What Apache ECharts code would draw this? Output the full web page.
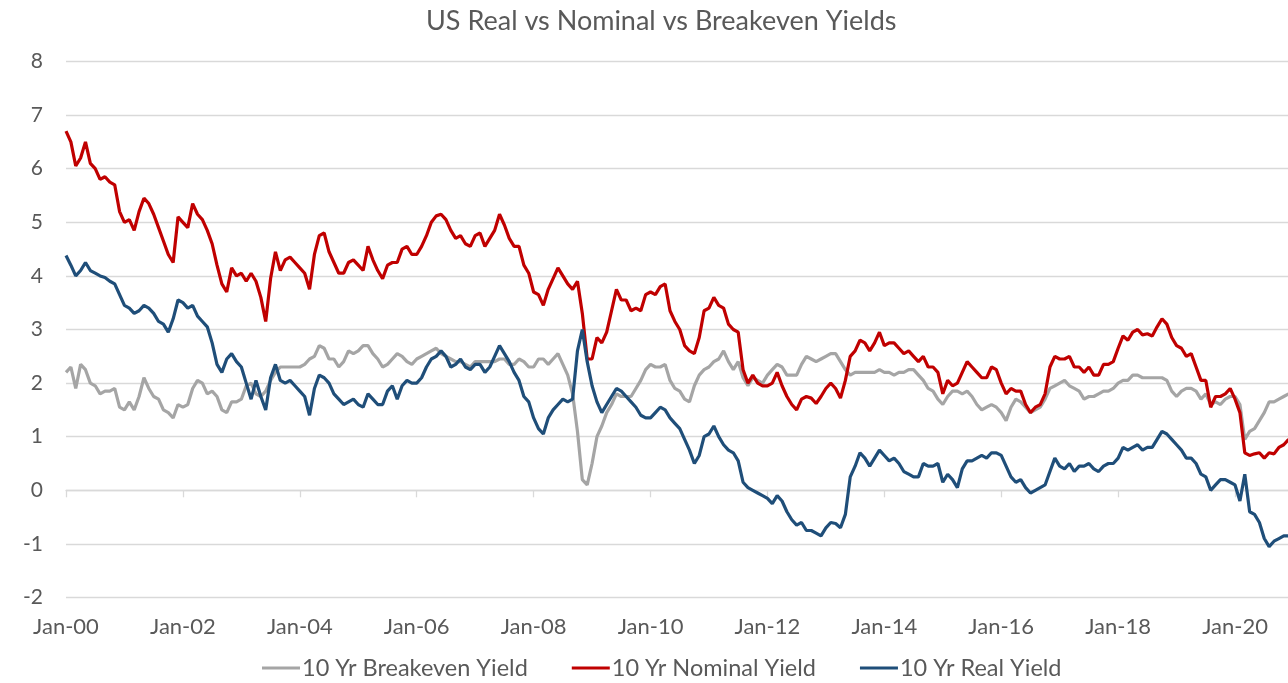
<!DOCTYPE html>
<html>
<head>
<meta charset="utf-8">
<script src="https://cdn.jsdelivr.net/npm/echarts@6/dist/echarts.min.js"></script>
<style>
  html, body { margin: 0; padding: 0; background: #fff; }
  #yield-chart { width: 1288px; height: 683px; }
</style>
</head>
<body>
<div id="yield-chart"></div>
<script>
// monthly readings, Jan-00 .. Dec-20 (one row per year)
const breakeven = [
  2.2, 2.3, 1.9, 2.35, 2.25, 2.0, 1.95, 1.8, 1.85, 1.85, 1.9, 1.55,
  1.5, 1.65, 1.5, 1.75, 2.1, 1.9, 1.75, 1.7, 1.5, 1.45, 1.35, 1.6,
  1.55, 1.6, 1.9, 2.05, 2.0, 1.8, 1.85, 1.75, 1.5, 1.45, 1.65, 1.65,
  1.7, 1.95, 2.0, 1.8, 1.75, 1.85, 2.05, 2.2, 2.3, 2.3, 2.3, 2.3,
  2.3, 2.35, 2.45, 2.5, 2.7, 2.65, 2.45, 2.45, 2.3, 2.4, 2.6, 2.55,
  2.6, 2.7, 2.7, 2.55, 2.45, 2.3, 2.35, 2.45, 2.55, 2.5, 2.4, 2.35,
  2.45, 2.5, 2.55, 2.6, 2.65, 2.55, 2.5, 2.45, 2.4, 2.4, 2.35, 2.3,
  2.4, 2.4, 2.4, 2.4, 2.4, 2.45, 2.45, 2.35, 2.35, 2.45, 2.4, 2.3,
  2.3, 2.45, 2.45, 2.35, 2.45, 2.55, 2.35, 2.15, 1.8, 1.1, 0.2, 0.1,
  0.5, 1.0, 1.2, 1.45, 1.6, 1.8, 1.75, 1.75, 1.75, 1.9, 2.05, 2.25,
  2.35, 2.3, 2.3, 2.35, 2.05, 1.9, 1.85, 1.7, 1.65, 1.95, 2.15, 2.25,
  2.3, 2.4, 2.45, 2.6, 2.4, 2.25, 2.4, 2.1, 1.95, 2.1, 2.05, 2.0,
  2.15, 2.25, 2.35, 2.3, 2.15, 2.15, 2.15, 2.35, 2.5, 2.45, 2.4, 2.45,
  2.5, 2.55, 2.55, 2.4, 2.25, 2.15, 2.2, 2.2, 2.2, 2.2, 2.2, 2.25,
  2.2, 2.2, 2.15, 2.2, 2.2, 2.25, 2.25, 2.15, 2.05, 1.9, 1.85, 1.7,
  1.6, 1.75, 1.85, 1.85, 1.8, 1.85, 1.75, 1.6, 1.5, 1.55, 1.6, 1.55,
  1.45, 1.3, 1.55, 1.7, 1.65, 1.55, 1.45, 1.5, 1.55, 1.7, 1.9, 1.95,
  2.0, 2.05, 1.95, 1.9, 1.85, 1.7, 1.75, 1.75, 1.8, 1.85, 1.85, 1.9,
  2.0, 2.05, 2.05, 2.15, 2.15, 2.1, 2.1, 2.1, 2.1, 2.1, 2.05, 1.85,
  1.75, 1.85, 1.9, 1.9, 1.85, 1.7, 1.8, 1.6, 1.65, 1.6, 1.7, 1.75,
  1.75, 1.6, 0.95, 1.1, 1.15, 1.3, 1.45, 1.65, 1.65, 1.7, 1.75, 1.8
];

const nominal = [
  6.7, 6.5, 6.05, 6.2, 6.5, 6.1, 6.0, 5.8, 5.85, 5.75, 5.7, 5.2,
  5.0, 5.05, 4.85, 5.2, 5.45, 5.35, 5.15, 4.9, 4.65, 4.4, 4.25, 5.1,
  5.0, 4.9, 5.35, 5.15, 5.05, 4.85, 4.6, 4.2, 3.85, 3.7, 4.15, 4.0,
  4.05, 3.9, 4.05, 3.9, 3.6, 3.15, 3.95, 4.45, 4.1, 4.3, 4.35, 4.25,
  4.15, 4.05, 3.75, 4.4, 4.75, 4.8, 4.45, 4.25, 4.05, 4.05, 4.25, 4.3,
  4.2, 4.1, 4.55, 4.3, 4.1, 3.95, 4.2, 4.25, 4.25, 4.5, 4.55, 4.4,
  4.4, 4.55, 4.75, 5.0, 5.12, 5.15, 5.05, 4.85, 4.7, 4.75, 4.6, 4.55,
  4.75, 4.8, 4.55, 4.7, 4.85, 5.15, 4.95, 4.7, 4.55, 4.55, 4.2, 4.05,
  3.7, 3.65, 3.45, 3.75, 3.95, 4.15, 4.0, 3.85, 3.75, 3.9, 3.3, 2.45,
  2.45, 2.85, 2.75, 2.95, 3.35, 3.75, 3.55, 3.55, 3.35, 3.4, 3.35, 3.65,
  3.7, 3.65, 3.8, 3.85, 3.35, 3.15, 3.0, 2.7, 2.6, 2.55, 2.85, 3.35,
  3.4, 3.6, 3.45, 3.4, 3.1, 3.0, 2.95, 2.25, 2.0, 2.15, 2.0, 1.95,
  1.95, 2.0, 2.2, 1.95, 1.75, 1.6, 1.5, 1.7, 1.75, 1.72, 1.62, 1.75,
  1.9, 2.0, 1.9, 1.72, 2.05, 2.5, 2.6, 2.8, 2.75, 2.6, 2.75, 2.95,
  2.7, 2.75, 2.75, 2.65, 2.55, 2.6, 2.5, 2.4, 2.5, 2.3, 2.3, 2.2,
  1.8, 2.05, 1.95, 2.0, 2.2, 2.4, 2.3, 2.2, 2.1, 2.1, 2.3, 2.25,
  2.0, 1.8, 1.9, 1.85, 1.85, 1.6, 1.45, 1.55, 1.6, 1.8, 2.3, 2.5,
  2.45, 2.45, 2.5, 2.3, 2.3, 2.2, 2.3, 2.15, 2.15, 2.35, 2.35, 2.4,
  2.65, 2.88, 2.8, 2.95, 3.0, 2.9, 2.92, 2.88, 3.05, 3.2, 3.1, 2.85,
  2.7, 2.65, 2.5, 2.55, 2.3, 2.05, 2.05, 1.55, 1.75, 1.75, 1.8, 1.9,
  1.7, 1.45, 0.7, 0.65, 0.68, 0.7, 0.6, 0.7, 0.68, 0.8, 0.85, 0.95
];

const real = [
  4.38, 4.2, 4.0, 4.1, 4.25, 4.1, 4.05, 4.0, 3.97, 3.9, 3.85, 3.65,
  3.45, 3.4, 3.3, 3.35, 3.45, 3.4, 3.3, 3.15, 3.1, 2.95, 3.2, 3.55,
  3.5, 3.4, 3.45, 3.25, 3.15, 3.05, 2.75, 2.35, 2.2, 2.45, 2.55, 2.4,
  2.3, 2.0, 1.7, 2.05, 1.75, 1.5, 2.1, 2.35, 2.05, 2.0, 2.05, 1.95,
  1.85, 1.75, 1.4, 1.9, 2.15, 2.1, 2.0, 1.8, 1.7, 1.6, 1.65, 1.7,
  1.6, 1.55, 1.8, 1.7, 1.6, 1.6, 1.85, 1.95, 1.7, 1.95, 2.05, 2.0,
  2.0, 2.1, 2.3, 2.45, 2.5, 2.6, 2.5, 2.3, 2.35, 2.45, 2.3, 2.25,
  2.35, 2.35, 2.2, 2.3, 2.5, 2.7, 2.55, 2.4, 2.2, 2.05, 1.75, 1.65,
  1.35, 1.15, 1.05, 1.35, 1.5, 1.6, 1.7, 1.65, 1.7, 2.6, 3.0, 2.4,
  1.95, 1.65, 1.45, 1.6, 1.75, 1.9, 1.85, 1.75, 1.65, 1.55, 1.4, 1.35,
  1.35, 1.45, 1.55, 1.5, 1.35, 1.25, 1.15, 0.95, 0.75, 0.5, 0.65, 1.0,
  1.05, 1.2, 1.0, 0.85, 0.75, 0.7, 0.55, 0.15, 0.05, 0.0, -0.05, -0.1,
  -0.15, -0.25, -0.1, -0.2, -0.4, -0.55, -0.65, -0.6, -0.75, -0.75, -0.8, -0.85,
  -0.7, -0.6, -0.62, -0.7, -0.45, 0.25, 0.45, 0.7, 0.6, 0.45, 0.6, 0.75,
  0.65, 0.55, 0.6, 0.5, 0.35, 0.3, 0.25, 0.25, 0.5, 0.45, 0.45, 0.5,
  0.15, 0.3, 0.2, 0.05, 0.4, 0.55, 0.55, 0.6, 0.65, 0.6, 0.7, 0.7,
  0.65, 0.45, 0.25, 0.15, 0.2, 0.05, -0.05, 0.0, 0.05, 0.1, 0.35, 0.6,
  0.45, 0.4, 0.5, 0.35, 0.45, 0.45, 0.5, 0.4, 0.35, 0.45, 0.5, 0.5,
  0.6, 0.8, 0.75, 0.8, 0.85, 0.75, 0.8, 0.8, 0.95, 1.1, 1.05, 0.95,
  0.85, 0.75, 0.6, 0.6, 0.5, 0.3, 0.25, 0.0, 0.1, 0.2, 0.2, 0.15,
  0.1, -0.2, 0.3, -0.4, -0.45, -0.6, -0.9, -1.05, -0.95, -0.9, -0.85, -0.85
];

// x ticks every 24 months from Jan-00
const tickLabels = ["Jan-00", "Jan-02", "Jan-04", "Jan-06", "Jan-08", "Jan-10",
  "Jan-12", "Jan-14", "Jan-16", "Jan-18", "Jan-20"];

const seriesNames = ["10 Yr Breakeven Yield", "10 Yr Nominal Yield", "10 Yr Real Yield"];
const seriesColors = ["#a5a5a5", "#c00000", "#1f4e79"];

const FONT = "Lato";
const TEXT = "#595959";
const GRID = "#d9d9d9";

function toPoints(arr) {
  return arr.map((v, i) => [i, v]);
}

const chart = echarts.init(document.getElementById("yield-chart"));

chart.setOption({
  animation: false,
  title: {
    text: "US Real vs Nominal vs Breakeven Yields",
    left: 421,
    top: 3,
    textStyle: { fontFamily: FONT, fontSize: 27, fontWeight: "normal", color: TEXT }
  },
  legend: {
    data: seriesNames,
    left: 262,
    top: 656,
    padding: 0,
    icon: "rect",
    itemWidth: 38,
    itemHeight: 3,
    itemGap: 44,
    textStyle: { fontFamily: FONT, fontSize: 23.5, color: TEXT, padding: [0, 0, 0, -3] }
  },
  grid: {
    left: 66,
    top: 61.5,
    height: 536,
    width: 1227.5,
    containLabel: false,
    outerBoundsMode: "none"
  },
  xAxis: {
    type: "value",
    min: 0,
    max: 252,
    interval: 24,
    axisLine: { onZero: true, lineStyle: { color: GRID, width: 1.3 } },
    axisTick: { show: true, length: 7, lineStyle: { color: GRID, width: 1.3 } },
    splitLine: { show: false },
    axisLabel: {
      margin: 18,
      hideOverlap: false,
      fontFamily: FONT,
      fontSize: 22,
      color: TEXT,
      formatter: function (v) {
        return v % 24 === 0 ? (tickLabels[v / 24] || "") : "";
      }
    }
  },
  yAxis: {
    type: "value",
    min: -2,
    max: 8,
    interval: 1,
    axisLine: { show: false },
    axisTick: { show: false },
    splitLine: { lineStyle: { color: GRID, width: 1.3 } },
    axisLabel: { margin: 23, fontFamily: FONT, fontSize: 21, color: TEXT }
  },
  series: [breakeven, nominal, real].map((arr, k) => ({
    name: seriesNames[k],
    type: "line",
    data: toPoints(arr),
    showSymbol: false,
    color: seriesColors[k],
    lineStyle: { width: 3.2, color: seriesColors[k] }
  }))
});
</script>
</body>
</html>
